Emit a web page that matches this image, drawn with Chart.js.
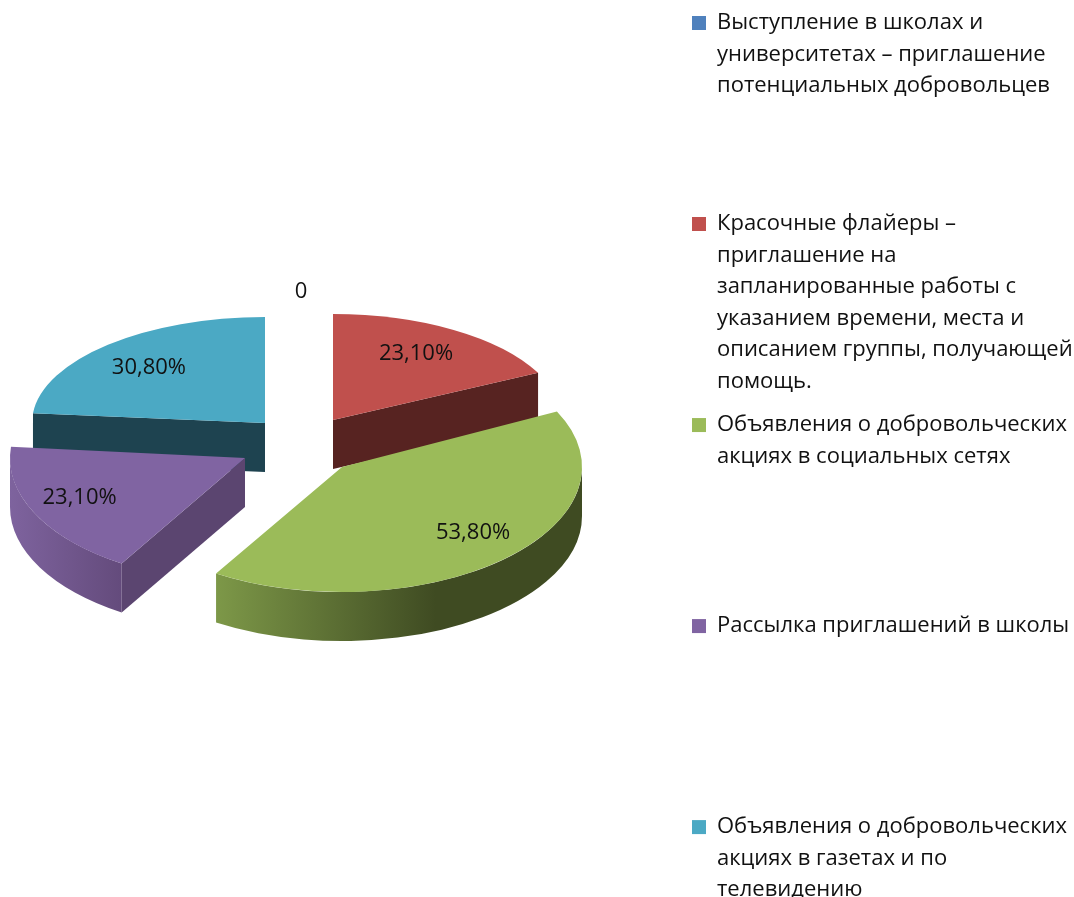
<!DOCTYPE html>
<html><head><meta charset="utf-8">
<style>html,body{margin:0;padding:0;background:#fff;overflow:hidden}#wrap{width:1074px;height:897px}</style>
<script src="https://cdn.jsdelivr.net/npm/chart.js@4"></script>
</head><body><div id="wrap"><canvas id="c" width="1074" height="897"></canvas></div>
<script>
const categories = [
  ["Выступление в школах и","университетах – приглашение","потенциальных добровольцев"],
  ["Красочные флайеры –","приглашение на","запланированные работы с","указанием времени, места и","описанием группы, получающей","помощь."],
  ["Объявления о добровольческих","акциях в социальных сетях"],
  ["Рассылка приглашений в школы"],
  ["Объявления о добровольческих","акциях в газетах и по","телевидению"]
];
const values = [0, 23.1, 53.8, 23.1, 30.8];
const topColors  = ["#4F81BD","#C0504D","#9BBB59","#8064A2","#4BA9C4"];
const cutColors  = ["#2A4466","#572321","#3F4B22","#5B4570","#1E4350"];
const rimLeft    = ["#4F81BD","#C0504D","#7D9848","#7E639E","#4BA9C4"];
const rimMid     = ["#2A4466","#572321","#3F4B22","#644B7C","#1E4350"];
const rimStop    = [1,1,0.6,1,1];

// projected pie geometry (tilted ellipse, one per exploded slice)
const apexX = [301,333,342,245,265];
const apexY = [440,420,467,458,423];
const radX  = [237,229,240,235,233];
const radY  = [107,106,125,124,106];
const depth = 49;
const labelFracX = [1,0.688,0.81,0.787,0.739];
const labelFracY = [1.4,0.755,0.694,0.678,0.729];
const labelDropPx = 2;
const paintOrder = [4,1,3,2,0];
const rowsPerLegendItem = 6;
const font = '"Open Sans"';
const fontSize = 22;

const pie3d = {
  id:'pie3d',
  afterLayout(chart){ chart.legend.bottom = chart.height + 200; },
  beforeDatasetsDraw(chart){
    const ctx = chart.ctx, arcs = chart.getDatasetMeta(0).data;
    const P = (i,a,d=0)=>[apexX[i]+radX[i]*Math.cos(a), apexY[i]+radY[i]*Math.sin(a)+d];
    const poly = (pts,fill)=>{ctx.beginPath();pts.forEach((p,k)=>k?ctx.lineTo(p[0],p[1]):ctx.moveTo(p[0],p[1]));ctx.closePath();ctx.fillStyle=fill;ctx.fill();};
    const cut = (i,a)=>{
      const t=P(i,a), v=[apexX[i],apexY[i]];
      poly([v,t,[t[0],t[1]+depth],[v[0],v[1]+depth]],cutColors[i]);
    };
    for(const i of paintOrder){
      const el = arcs[i];
      const a1 = el.startAngle, a2 = el.endAngle;
      if(a2 > a1){
        if(Math.cos(a1) < -1e-6) cut(i,a1);
        if(Math.cos(a2) >  1e-6) cut(i,a2);
        const lo=Math.max(a1,0), hi=Math.min(a2,Math.PI);
        if(hi>lo){
          const xl=P(i,hi)[0], xr=P(i,lo)[0];
          const g=ctx.createLinearGradient(xl,0,xr,0);
          g.addColorStop(0,rimLeft[i]); g.addColorStop(rimStop[i],rimMid[i]);
          if(rimStop[i]<1) g.addColorStop(1,rimMid[i]);
          ctx.beginPath();
          ctx.ellipse(apexX[i],apexY[i],radX[i],radY[i],0,lo,hi,false);
          ctx.ellipse(apexX[i],apexY[i]+depth,radX[i],radY[i],0,hi,lo,true);
          ctx.closePath(); ctx.fillStyle=g; ctx.fill();
        }
        const R=el.outerRadius;
        ctx.save();
        ctx.translate(apexX[i],apexY[i]);
        ctx.scale(radX[i]/R,radY[i]/R);
        ctx.translate(-el.x,-el.y);
        el.draw(ctx);
        ctx.restore();
      }
    }
    ctx.save();
    ctx.font = fontSize+'px '+font; ctx.fillStyle='#111'; ctx.textAlign='center'; ctx.textBaseline='middle';
    arcs.forEach((el,i)=>{
      const m=(el.startAngle+el.endAngle)/2;
      const t=values[i]===0?'0':values[i].toFixed(2).replace('.',',')+'%';
      ctx.fillText(t,apexX[i]+radX[i]*labelFracX[i]*Math.cos(m),apexY[i]+radY[i]*labelFracY[i]*Math.sin(m)+labelDropPx);
    });
    ctx.restore();
    return false;
  }
};

new Chart(document.getElementById('c'),{
  type:'pie',
  data:{labels:categories,datasets:[{data:values,backgroundColor:topColors,borderWidth:0}]},
  plugins:[pie3d],
  options:{
    responsive:false,animation:false,
    layout:{padding:{left:0,right:0,top:0,bottom:0}},
    plugins:{
      tooltip:{enabled:false},
      legend:{
        position:'right',align:'start',maxWidth:394,
        labels:{
          boxWidth:14,boxHeight:14,padding:12,color:'#111',
          font:{family:font,size:fontSize,lineHeight:1.432},
          generateLabels(chart){
            const items=Chart.overrides.doughnut.plugins.legend.labels.generateLabels(chart);
            items.forEach((it,k)=>{
              const lines=[...categories[k]];
              if(k<items.length-1) while(lines.length<rowsPerLegendItem) lines.push('');
              it.text=lines;
            });
            return items;
          }
        }
      }
    }
  }
});
</script></body></html>
